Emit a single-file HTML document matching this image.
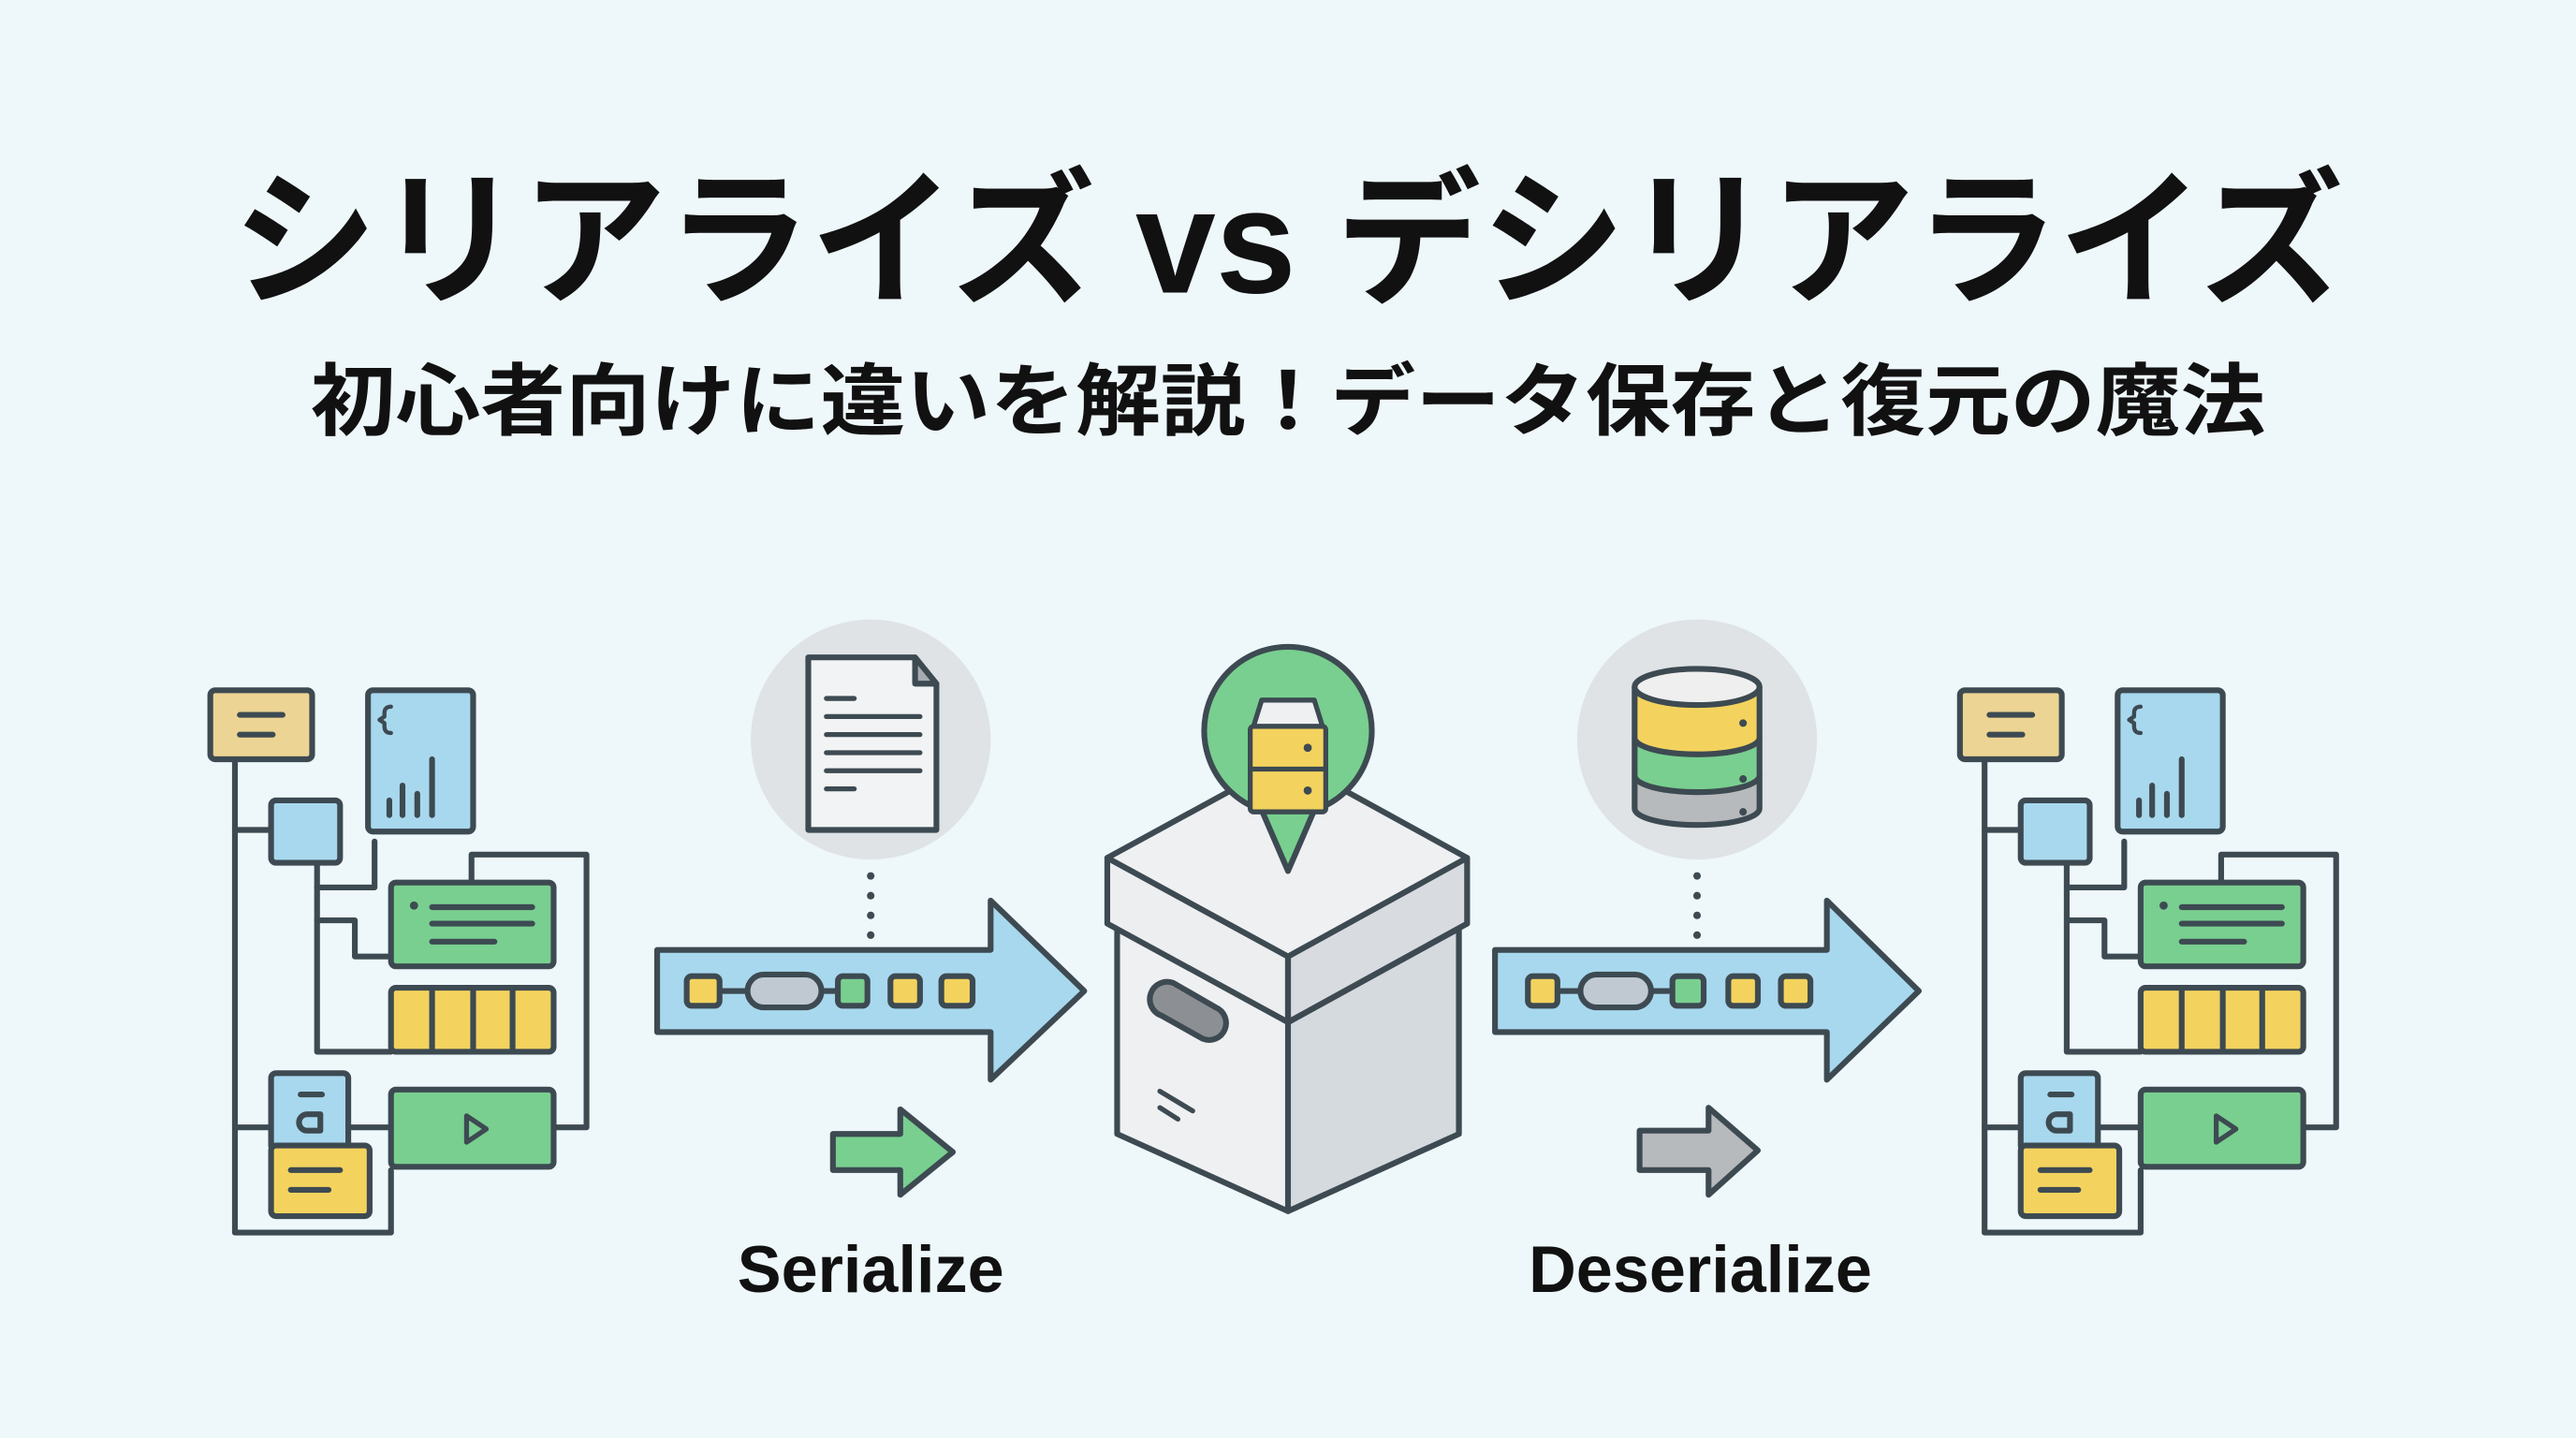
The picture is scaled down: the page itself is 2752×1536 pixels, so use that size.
<!DOCTYPE html>
<html><head><meta charset="utf-8"><style>
html,body{margin:0;padding:0;background:#eef7fa;}
svg{display:block}
</style></head><body>
<svg width="2752" height="1536" viewBox="0 0 1568 875" preserveAspectRatio="none" xmlns="http://www.w3.org/2000/svg">
<rect width="1568" height="875" fill="#eef7fa"/>
<text x="784" y="178" text-anchor="middle" font-family="'Liberation Sans','Noto Sans CJK JP',sans-serif" font-weight="bold" font-size="90" fill="#111" textLength="1285" lengthAdjust="spacingAndGlyphs">シリアライズ vs デシリアライズ</text>
<text x="784" y="261" text-anchor="middle" font-family="'Liberation Sans','Noto Sans CJK JP',sans-serif" font-weight="bold" font-size="48" fill="#111" textLength="1190" lengthAdjust="spacingAndGlyphs">初心者向けに違いを解説！データ保存と復元の魔法</text>

<defs>
<g id="tree" stroke="#3d4a52" stroke-width="3.5" stroke-linejoin="round" stroke-linecap="round">
  <g fill="none">
    <path d="M143 462 V750 H238 V712"/>
    <path d="M143 505 H165"/>
    <path d="M143 686 H165"/>
    <path d="M193 525 V640 H238"/>
    <path d="M193 540 H228 V512"/>
    <path d="M193 560 H216 V582 H238"/>
    <path d="M212 686 H238"/>
    <path d="M337 686 H357 V520 H287 V537"/>
  </g>
  <rect x="128" y="420" width="62" height="42" rx="3" fill="#ecd494"/>
  <path d="M146 435 H172 M146 447 H166" fill="none"/>
  <rect x="224" y="420" width="64" height="86" rx="3" fill="#a8d8ee"/>
  <path d="M238 430 q-4 0 -4 4 v2 l-3 2 l3 2 v2 q0 4 4 4" fill="none" stroke-width="2.5"/>
  <path d="M237 496 V487 M245 496 V478 M254 496 V483 M263 496 V462" fill="none"/>
  <rect x="165" y="487" width="42" height="38" rx="3" fill="#a8d8ee"/>
  <rect x="238" y="537" width="99" height="51" rx="3" fill="#79cf8f"/>
  <circle cx="252" cy="551" r="2.5" fill="#3d4a52" stroke="none"/>
  <path d="M263 552 H324 M263 562 H324 M263 573 H301" fill="none"/>
  <rect x="238" y="601" width="99" height="39" rx="3" fill="#f3d35e"/>
  <path d="M263 601 V640 M288 601 V640 M312 601 V640" fill="none"/>
  <rect x="165" y="653" width="47" height="47" rx="3" fill="#a8d8ee"/>
  <path d="M183 666 H196" fill="none"/>
  <path d="M195 688 H187 a5 5 0 0 1 0 -10 H195 Z" fill="none"/>
  <rect x="238" y="663" width="99" height="47" rx="3" fill="#79cf8f"/>
  <path d="M284 679 L296 687 L284 695 Z" fill="none" stroke-width="3"/>
  <rect x="165" y="697" width="60" height="43" rx="3" fill="#f3d35e"/>
  <path d="M177 712 H207 M177 724 H200" fill="none"/>
</g>
</defs>
<use href="#tree"/>
<use href="#tree" transform="translate(1065,0)"/>

<g stroke="#3d4a52" stroke-width="3.5" stroke-linejoin="round" stroke-linecap="round">
  <path d="M400 578 H603 V548 L660 603 L603 657 V628 H400 Z" fill="#a8d8ee"/>
  <path d="M438 603 H455 M500 603 H510" fill="none"/>
  <rect x="418" y="594" width="20" height="18" rx="3" fill="#f3d35e"/>
  <rect x="455" y="593" width="45" height="20" rx="10" fill="#c0c8d2"/>
  <rect x="510" y="594" width="18" height="18" rx="3" fill="#79cf8f"/>
  <rect x="542" y="594" width="18" height="18" rx="3" fill="#f3d35e"/>
  <rect x="573" y="594" width="19" height="18" rx="3" fill="#f3d35e"/>
  <circle cx="530" cy="450" r="73" fill="#dfe3e6" stroke="none"/>
  <path d="M492 400 H557 L570 416 V505 H492 Z" fill="#f2f3f4"/>
  <path d="M557 400 V416 H570 Z" fill="#a6abb0"/>
  <path d="M503 425 H520 M503 436 H560 M503 447 H560 M503 458 H560 M503 469 H560 M503 480 H520" fill="none" stroke-width="3"/>
  <g fill="#3d4a52" stroke="none"><circle cx="530" cy="533" r="2.3"/><circle cx="530" cy="545" r="2.3"/><circle cx="530" cy="557" r="2.3"/><circle cx="530" cy="569" r="2.3"/></g>
  <path d="M507 690 H548 V675 L580 701 L548 727 V712 H507 Z" fill="#79cf8f"/>

  <path d="M680 565 V690 L784 737 L888 690 V565" fill="#eef0f2"/>
  <path d="M784 622 V737 L888 690 V565 Z" fill="#d5dade"/>
  <path d="M674 522 V562 L784 622 L893 562 V522 L784 582 Z" fill="#eceef0"/>
  <path d="M784 582 V622 L893 562 V522 Z" fill="#d8dce0"/>
  <path d="M674 522 L784 462 L893 522 L784 582 Z" fill="#eef0f2"/>
  <path d="M784 582 V622" fill="none"/>
  <path d="M714 598 L740 613 a10 10 0 0 1 -8 19 L707 618 a10 10 0 0 1 7 -20 Z" fill="#8c9094"/>
  <path d="M706 664 L726 676 M706 674 L717 681" fill="none" stroke-width="3"/>
  <path d="M784 530 L768 493 A51 51 0 1 1 800 493 Z" fill="#79cf8f"/>
  <path d="M763 442 L768 426 H800 L805 442 Z" fill="#eef0f2" stroke-width="3"/>
  <rect x="761" y="442" width="46" height="52" rx="2" fill="#f3d35e" stroke-width="3"/>
  <path d="M761 468 H807" fill="none" stroke-width="3"/>
  <circle cx="796" cy="455" r="2.5" fill="#3d4a52" stroke="none"/>
  <circle cx="796" cy="481" r="2.5" fill="#3d4a52" stroke="none"/>

  <path d="M910 578 H1112 V548 L1168 603 L1112 657 V628 H910 Z" fill="#a8d8ee"/>
  <path d="M948 603 H962 M1005 603 H1018" fill="none"/>
  <rect x="930" y="594" width="18" height="18" rx="3" fill="#f3d35e"/>
  <rect x="962" y="593" width="43" height="20" rx="10" fill="#c0c8d2"/>
  <rect x="1018" y="594" width="19" height="18" rx="3" fill="#79cf8f"/>
  <rect x="1052" y="594" width="18" height="18" rx="3" fill="#f3d35e"/>
  <rect x="1084" y="594" width="18" height="18" rx="3" fill="#f3d35e"/>
  <circle cx="1033" cy="450" r="73" fill="#dfe3e6" stroke="none"/>
  <path d="M995 472 V492 A38 10 0 0 0 1071 492 V472 Z" fill="#b7babd"/>
  <path d="M995 449 V472 A38 10 0 0 0 1071 472 V449 Z" fill="#79cf8f"/>
  <path d="M995 418 V449 A38 10 0 0 0 1071 449 V418 Z" fill="#f3d35e"/>
  <ellipse cx="1033" cy="418" rx="38" ry="11" fill="#efefef"/>
  <g fill="#3d4a52" stroke="none"><circle cx="1061" cy="440" r="2.3"/><circle cx="1061" cy="474" r="2.3"/><circle cx="1061" cy="494" r="2.3"/></g>
  <g fill="#3d4a52" stroke="none"><circle cx="1033" cy="533" r="2.3"/><circle cx="1033" cy="545" r="2.3"/><circle cx="1033" cy="557" r="2.3"/><circle cx="1033" cy="569" r="2.3"/></g>
  <path d="M998 688 H1040 V674 L1070 700 L1040 727 V712 H998 Z" fill="#b7babd"/>
</g>

<text x="530" y="786" text-anchor="middle" font-family="'Liberation Sans',sans-serif" font-weight="bold" font-size="40" fill="#111">Serialize</text>
<text x="1035" y="786" text-anchor="middle" font-family="'Liberation Sans',sans-serif" font-weight="bold" font-size="40" fill="#111">Deserialize</text>
</svg>
</body></html>
